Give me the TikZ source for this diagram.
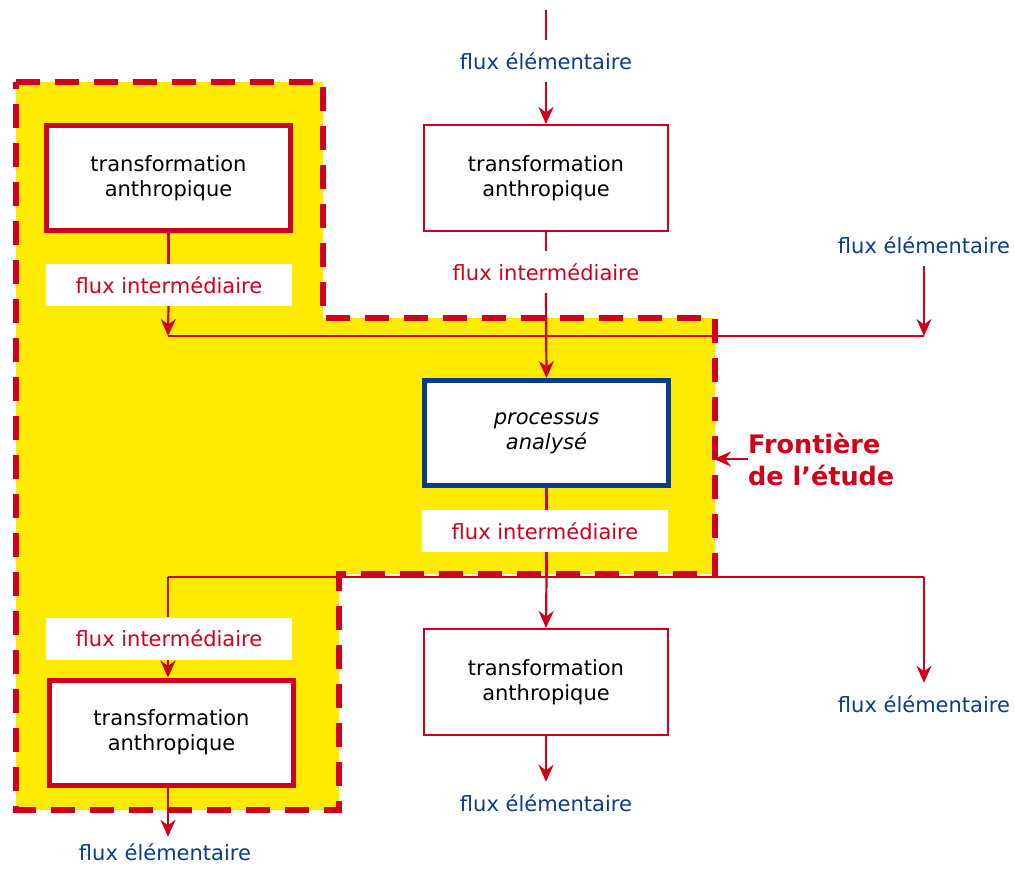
\documentclass[tikz,border=0pt]{standalone}
\usepackage{fontspec}
\setmainfont{DejaVu Sans}
\usetikzlibrary{arrows.meta}
\definecolor{cred}{HTML}{D0021B}
\definecolor{cblue}{HTML}{0A3C8C}
\definecolor{cyel}{HTML}{FFEB00}
\tikzset{
 base/.style={font=\fontsize{21}{25}\selectfont},
 tbox/.style={base, draw=cred, fill=white, line width=2pt, minimum width=244pt, minimum height=106pt, align=center, inner sep=0pt},
 tkbox/.style={tbox, line width=5pt, minimum width=244pt, minimum height=105pt},
 pbox/.style={tkbox, draw=cblue, font=\fontsize{21}{25}\selectfont\itshape},
 felab/.style={base, text=cblue, text height=16pt, text depth=0pt, inner xsep=0pt, inner ysep=13pt},
 filab/.style={base, text=cred, text height=16pt, text depth=0pt, inner xsep=0pt, inner ysep=13pt},
 fibox/.style={filab, fill=white, minimum width=246pt, minimum height=42pt, inner ysep=0pt},
 flow/.style={draw=cred, line width=2.2pt},
 arr/.style={flow, -{Stealth[length=17pt,width=15pt,inset=5.5pt]}},
 border/.style={draw=cred, line width=6.5pt, dash pattern=on 24pt off 15pt},
 zone/.style={fill=cyel},
}
\begin{document}
\begin{tikzpicture}[x=1pt,y=-1pt]
\path[use as bounding box] (0,0) rectangle (1015,868);
% study boundary zone
\fill[zone] (16,82) -- (323,82) -- (323,318) -- (715,318) -- (715,574) -- (339,574) -- (339,810) -- (16,810) -- cycle;
% junction coordinates
\coordinate (topin) at (546,10);
\coordinate (j1l) at (168,336);
\coordinate (j1r) at (924,336);
\coordinate (j2l) at (168,577);
\coordinate (j2r) at (924,577);
\coordinate (bnd) at (714,457);
% labels
\node[felab] (fe1) at (546,61) {flux élémentaire};
\node[felab] (fe2) at (924,245) {flux élémentaire};
\node[felab] (fe3) at (924,704) {flux élémentaire};
\node[felab] (fe4) at (546,803) {flux élémentaire};
\node[felab] (fe5) at (165,852) {flux élémentaire};
\node[filab] (fi2) at (546,272) {flux intermédiaire};

\draw[flow] (j1l) -- (j1r);
\draw[flow] (j2l) -- (j2r);
\draw[border] (16,82) -- (323,82) -- (323,318) -- (715,318) -- (715,574) -- (339,574) -- (339,810) -- (16,810) -- cycle;

\node[tkbox] (tl) at (168.5,178) {transformation\\anthropique};
\node[tbox] (tm) at (546,178) {transformation\\anthropique};
\node[pbox] (proc) at (546.5,433) {processus\\analysé};
\node[tbox] (bm) at (546,682) {transformation\\anthropique};
\node[tkbox] (bl) at (171.5,732.5) {transformation\\anthropique};

\node[fibox] (fi1) at (169,285) {flux intermédiaire};
\node[fibox] (fi3) at (545,531) {flux intermédiaire};
\node[fibox] (fi4) at (169,638.5) {flux intermédiaire};

\draw[flow] (topin) -- (fe1.north);
\draw[arr] (fe1.south) -- (tm.north);
\draw[flow] (tm.south) -- (fi2.north);
\draw[arr] (fi2.south) -- (proc.north);
\draw[flow] (tl.south) -- (tl.south |- fi1.north);
\draw[arr] (tl.south |- fi1.south) -- (j1l);
\draw[arr] (fe2.south) -- (j1r);
\draw[flow] (proc.south) -- (proc.south |- fi3.north);
\draw[flow] (proc.south |- fi3.south) -- (j2l -| proc.south);
\draw[arr] (j2l -| proc.south) -- (bm.north);
\draw[flow] (j2l) -- (j2l |- fi4.north);
\draw[arr] (j2l |- fi4.south) -- (bl.north -| j2l);
\draw[arr] (j2r) -- (fe3.north);
\draw[arr] (bm.south) -- (fe4.north);
\draw[arr, shorten >=-6pt] (bl.south -| j2l) -- (fe5.north -| j2l);

\node[anchor=west, inner sep=0pt, align=left, text=cred, font=\fontsize{25.5}{32}\selectfont\bfseries] (front) at (748,459) {Frontière\\de l’étude};
\draw[arr] (front.west) -- (front.west -| bnd);
\end{tikzpicture}
\end{document}
